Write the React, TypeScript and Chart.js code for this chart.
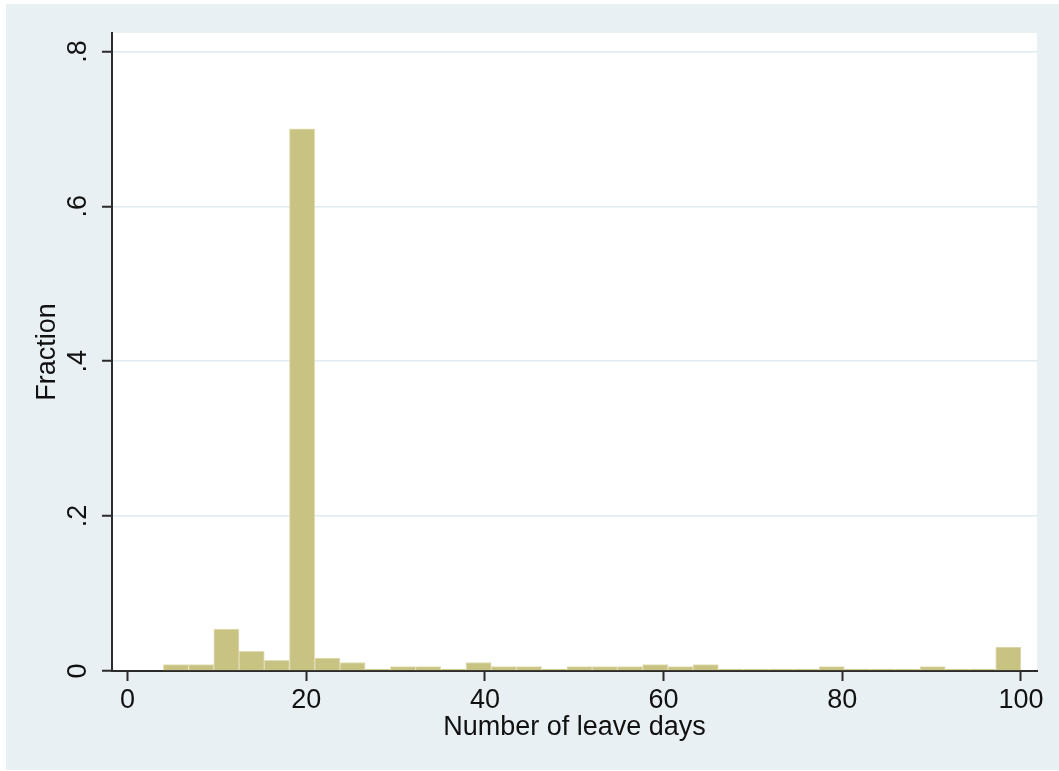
import React, { useEffect, useRef } from "react";
import { Chart, registerables } from "chart.js";

Chart.register(...registerables);

// Histogram: 34 bins starting at 4 days, ending at 100 days
const binStart = 4;
const binEnd = 100;
const fractions = [
  0.0083, 0.0083, 0.054, 0.0254, 0.0138, 0.7, 0.0168, 0.011, 0.0026, 0.0057,
  0.0057, 0.0026, 0.011, 0.0057, 0.0057, 0.0026, 0.0057, 0.0057, 0.0057, 0.0083,
  0.0057, 0.0083, 0.0026, 0.0026, 0.0026, 0.0026, 0.0057, 0.0026, 0.0026, 0.0026,
  0.0057, 0.0026, 0.0026, 0.031,
];
const xTicks = [0, 20, 40, 60, 80, 100];
const yTicks = [0, 0.2, 0.4, 0.6, 0.8];
const xTitle = "Number of leave days";
const yTitle = "Fraction";

const FONT = "'Liberation Sans', Arial, sans-serif";
const FS = 27;
const PANEL = "rgb(232,240,243)";
const GRID = "rgb(224,234,238)";
const BAR = "rgb(201,195,131)";
const BAR_EDGE = "rgb(226,222,182)";
const AXIS = "#2b2b2b";
const TEXT = "#111111";

const bgPlugin = {
  id: "stataBg",
  beforeDraw(chart: any) {
    const { ctx, chartArea } = chart;
    ctx.save();
    ctx.fillStyle = "#ffffff";
    ctx.fillRect(0, 0, chart.width, chart.height);
    ctx.fillStyle = PANEL;
    ctx.fillRect(6, 4, chart.width - 6, chart.height - 5);
    ctx.fillStyle = "#ffffff";
    ctx.fillRect(
      chartArea.left,
      chartArea.top,
      chartArea.right - chartArea.left,
      chartArea.bottom - chartArea.top
    );
    ctx.restore();
  },
};

export default function App() {
  const ref = useRef<HTMLCanvasElement | null>(null);

  useEffect(() => {
    if (!ref.current) return;
    const binWidth = (binEnd - binStart) / fractions.length;
    const points = fractions.map((f, i) => ({
      x: binStart + binWidth * (i + 0.5),
      y: f,
    }));
    const chart = new Chart(ref.current, {
      type: "bar",
      data: {
        datasets: [
          {
            data: points as any,
            backgroundColor: BAR,
            borderColor: BAR_EDGE,
            borderWidth: 1,
            barPercentage: 1,
            categoryPercentage: 1,
          },
        ],
      },
      options: {
        animation: false,
        responsive: false,
        maintainAspectRatio: false,
        layout: { padding: { left: 0, top: 33, right: 22, bottom: 0 } },
        plugins: {
          legend: { display: false },
          tooltip: { enabled: false },
        },
        scales: {
          x: {
            type: "linear",
            offset: false,
            min: -1.75,
            max: 101.8,
            afterFit(scale: any) {
              scale.height = 100;
            },
            afterBuildTicks(scale: any) {
              scale.ticks = xTicks.map((v) => ({ value: v }));
            },
            border: { display: true, color: AXIS, width: 2 },
            grid: {
              offset: false,
              drawOnChartArea: false,
              drawTicks: true,
              tickLength: 10,
              tickColor: AXIS,
              tickWidth: 2,
            },
            ticks: {
              color: TEXT,
              font: { family: FONT, size: FS },
              padding: 3,
              maxRotation: 0,
              autoSkip: false,
            },
            title: {
              display: true,
              text: xTitle,
              color: TEXT,
              font: { family: FONT, size: FS },
              padding: { top: 0, bottom: 27 },
            },
          },
          y: {
            type: "linear",
            min: 0,
            max: 0.8238,
            afterFit(scale: any) {
              scale.width = 112;
            },
            afterBuildTicks(scale: any) {
              scale.ticks = yTicks.map((v) => ({ value: v }));
            },
            border: { display: true, color: AXIS, width: 2 },
            grid: {
              color: (c: any) => (c.tick && c.tick.value === 0 ? "rgba(0,0,0,0)" : GRID),
              lineWidth: 1.5,
              drawTicks: true,
              tickLength: 10,
              tickColor: AXIS,
              tickWidth: 2,
            },
            ticks: {
              color: TEXT,
              font: { family: FONT, size: FS },
              padding: 12,
              minRotation: 90,
              maxRotation: 90,
              crossAlign: "center",
              autoSkip: false,
              callback: (v: any) => {
                const n = Number(v);
                if (n === 0) return "0";
                return n.toFixed(1).replace(/^0\./, ".");
              },
            },
            title: {
              display: true,
              text: yTitle,
              color: TEXT,
              font: { family: FONT, size: FS },
              padding: { top: 31, bottom: 0 },
            },
          },
        },
      } as any,
      plugins: [bgPlugin],
    });
    return () => chart.destroy();
  }, []);

  return (
    <div style={{ position: "fixed", left: 0, top: 0, width: 1059, height: 771 }}>
      <canvas ref={ref} width={1059} height={771} style={{ width: 1059, height: 771 }} />
    </div>
  );
}
